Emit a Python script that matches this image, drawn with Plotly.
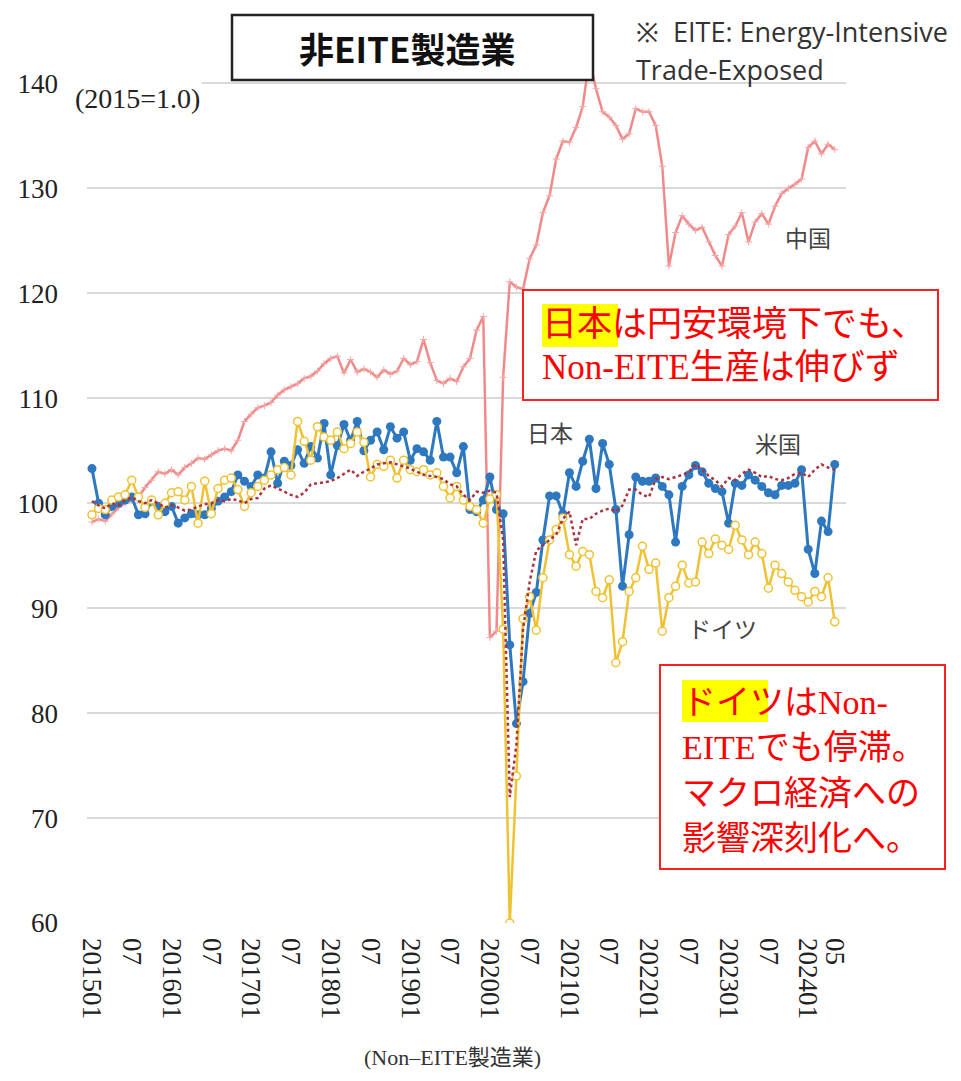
import pandas as pd
import plotly.graph_objects as go

# monthly, 2015-01 .. 2024-05 (2015=100)
months = pd.period_range("2015-01", "2024-05", freq="M")

china = [98.2, 98.5, 98.3, 99.0, 99.6, 100.0, 100.3, 100.6, 101.5, 102.2, 103.0, 102.8,
         103.2, 102.7, 103.4, 103.8, 104.3, 104.2, 104.6, 105.0, 105.2, 105.0, 106.0, 107.8,
         108.5, 109.1, 109.3, 109.6, 110.3, 110.8, 111.1, 111.4, 111.9, 112.1, 112.6, 113.3,
         113.8, 114.0, 112.4, 113.7, 112.5, 112.8, 112.5, 112.0, 112.7, 112.3, 112.6, 113.8,
         113.2, 113.5, 115.6, 113.4, 111.7, 111.4, 111.9, 111.6, 113.0, 113.8, 116.5, 117.8,
         87.2, 87.8, 112.0, 121.1, 120.6, 120.4, 123.3, 124.6, 127.7, 129.3, 132.8, 134.5,
         134.4, 135.8, 137.8, 142.3, 139.5, 137.3, 136.8, 136.0, 134.7, 135.2, 137.6, 137.3,
         137.3, 136.0, 132.1, 122.6, 125.8, 127.4, 126.6, 126.0, 126.3, 124.9, 123.6, 122.6,
         125.6, 126.4, 127.7, 124.9, 126.8, 127.6, 126.6, 128.3, 129.5, 130.0, 130.4, 130.9,
         133.9, 134.5, 133.3, 134.2, 133.7]

japan = [103.3, 100.0, 98.9, 99.7, 100.0, 100.3, 100.6, 98.9, 99.0, 100.2, 99.7, 99.2,
         99.7, 98.1, 98.6, 99.0, 98.9, 98.9, 99.5, 100.2, 100.6, 101.1, 102.7, 102.1,
         101.6, 102.7, 102.4, 104.9, 101.9, 104.0, 103.6, 105.1, 103.8, 105.4, 104.3, 107.6,
         102.7, 105.5, 107.5, 106.0, 107.8, 105.0, 106.0, 106.8, 105.1, 107.3, 106.2, 106.8,
         104.1, 105.2, 104.9, 104.1, 107.8, 104.4, 104.4, 102.9, 105.4, 99.4, 99.2, 100.3,
         102.5, 99.4, 99.0, 86.5, 79.0, 83.0, 89.5, 91.5, 96.5, 100.7, 100.7, 99.0,
         102.9, 101.6, 104.0, 106.1, 101.4, 105.7, 103.7, 99.4, 92.1, 97.0, 102.5, 102.1,
         102.1, 102.4, 101.6, 100.8, 96.3, 101.6, 102.7, 103.6, 103.0, 101.9, 101.4, 101.1,
         98.1, 101.9, 101.7, 102.7, 102.2, 101.6, 101.0, 100.8, 101.7, 101.7, 101.9, 103.2,
         95.6, 93.3, 98.3, 97.3, 103.7]

germany = [98.9, 99.5, 99.4, 100.3, 100.6, 100.8, 102.2, 100.6, 99.6, 100.3, 98.9, 100.0,
           101.0, 101.1, 100.3, 101.6, 98.1, 102.1, 99.0, 101.4, 102.2, 102.4, 101.3, 99.7,
           101.0, 101.6, 102.2, 102.7, 103.2, 103.4, 102.7, 107.8, 105.9, 104.1, 107.3, 106.3,
           106.0, 106.8, 105.2, 105.7, 106.8, 105.8, 102.5, 103.7, 103.5, 104.1, 102.4, 104.1,
           103.2, 103.0, 103.2, 102.7, 102.9, 101.6, 100.5, 101.6, 100.3, 99.7, 99.4, 98.1,
           100.4, 100.8, 88.0, 60.0, 74.0, 89.0, 91.1, 87.9, 92.9, 96.5, 97.5, 98.6,
           95.1, 94.0, 95.4, 95.1, 91.6, 91.0, 92.7, 84.8, 86.8, 91.6, 92.9, 95.9,
           93.7, 94.3, 87.8, 91.0, 92.1, 94.1, 92.4, 92.5, 96.3, 95.2, 96.6, 96.0,
           95.6, 97.9, 96.5, 95.1, 96.3, 95.2, 91.9, 94.1, 93.3, 92.5, 91.7, 91.1,
           90.6, 91.6, 91.1, 92.9, 88.7]

usa = [100.2, 99.8, 99.5, 100.0, 99.8, 100.3, 100.6, 100.2, 100.0, 100.3, 100.0, 99.6,
       99.8, 99.6, 99.3, 99.4, 99.7, 99.9, 100.0, 100.3, 100.2, 100.4, 100.3, 100.0,
       100.4, 100.5, 101.4, 101.7, 101.4, 101.1, 100.8, 100.6, 101.0, 101.8, 101.9, 102.0,
       102.1, 102.4, 102.8, 103.2, 102.6, 103.0, 103.3, 103.7, 103.8, 103.9, 103.7, 103.5,
       103.3, 103.0, 102.7, 102.6, 102.5, 102.3, 101.8, 101.6, 100.8, 100.3, 101.1, 101.0,
       101.2, 101.0, 96.5, 72.0, 77.0, 88.0, 92.5, 95.5, 96.0, 96.5, 97.0, 98.5,
       99.2, 96.0, 98.5, 98.5, 99.0, 99.3, 99.5, 99.2, 99.8, 101.3, 101.3, 100.8,
       100.6, 102.3, 102.5, 102.3, 102.5, 102.7, 103.0, 103.7, 103.2, 102.6, 102.2, 101.6,
       102.4, 102.2, 102.8, 103.2, 102.9, 102.5, 102.6, 102.3, 102.2, 102.4, 102.8, 102.9,
       102.5, 103.2, 103.7, 103.4, 103.2]

x = list(range(len(months)))
tick_idx = list(range(0, len(months), 6)) + [len(months) - 1]
tick_text = [months[i].strftime("%Y%m") if months[i].month == 1 else months[i].strftime("%m")
             for i in tick_idx]

W, H = 961, 1081
ML, MR, MT, MB = 87, 115, 31, 158


def px(xp):
    return (xp - ML) / (W - ML - MR)


def py(yp):
    return (H - MB - yp) / (H - MT - MB)


SERIF = "Liberation Serif, Noto Sans CJK JP"

fig = go.Figure()
fig.add_trace(go.Scatter(x=x, y=china, mode="lines+markers", name="中国",
                         line=dict(color="#F08A8A", width=2.5),
                         marker=dict(symbol="cross-thin", size=5,
                                     line=dict(color="#F4A8A8", width=1))))
fig.add_trace(go.Scatter(x=x, y=japan, mode="lines+markers", name="日本",
                         line=dict(color="#2E78C0", width=3),
                         marker=dict(symbol="circle", size=9, color="#2E78C0")))
fig.add_trace(go.Scatter(x=x, y=germany, mode="lines+markers", name="ドイツ",
                         line=dict(color="#EFC233", width=2.5),
                         marker=dict(symbol="circle", size=8, color="white",
                                     line=dict(color="#EFC233", width=1.5))))
fig.add_trace(go.Scatter(x=x, y=usa, mode="lines", name="米国",
                         line=dict(color="#A8323E", width=2.5, dash="dot")))

shapes = [
    # title box
    dict(type="rect", xref="paper", yref="paper", x0=px(232), x1=px(593), y0=py(80), y1=py(15),
         line=dict(color="#222222", width=2.5), fillcolor="white"),
    # Japan comment box
    dict(type="rect", xref="paper", yref="paper", x0=px(523), x1=px(938), y0=py(400), y1=py(290),
         line=dict(color="#FF2020", width=2), fillcolor="white"),
    dict(type="rect", xref="paper", yref="paper", x0=px(542), x1=px(618), y0=py(347), y1=py(304),
         line=dict(width=0), fillcolor="#FFFF00"),
    # Germany comment box
    dict(type="rect", xref="paper", yref="paper", x0=px(660), x1=px(945), y0=py(869), y1=py(665),
         line=dict(color="#FF2020", width=2), fillcolor="white"),
    dict(type="rect", xref="paper", yref="paper", x0=px(682), x1=px(768), y0=py(722), y1=py(680),
         line=dict(width=0), fillcolor="#FFFF00"),
]

ann = []


def note(text, xp, yp, size, color, family=SERIF, xanchor="center", bg=None):
    d = dict(text=text, xref="paper", yref="paper", x=px(xp), y=py(yp), showarrow=False,
             xanchor=xanchor, yanchor="middle", font=dict(family=family, size=size, color=color))
    if bg:
        d["bgcolor"] = bg
    ann.append(d)


note("<b>非EITE製造業</b>", 407, 47, 35, "#111111", family="Noto Sans CJK JP")
note("(2015=1.0)", 73, 98, 28, "#222222", xanchor="left", bg="white")
note("※  EITE: Energy-Intensive", 634, 32, 27, "#333333", family="Open Sans", xanchor="left")
note("Trade-Exposed", 634, 70, 27, "#333333", family="Open Sans", xanchor="left")

note("日本は円安環境下でも、", 540, 325, 35, "#FF0000", xanchor="left")
note("Non-EITE生産は伸びず", 540, 367, 35, "#FF0000", xanchor="left")

note("ドイツはNon-", 680, 702, 34, "#FF0000", xanchor="left")
note("EITEでも停滞。", 680, 748, 34, "#FF0000", xanchor="left")
note("マクロ経済への", 680, 793, 34, "#FF0000", xanchor="left")
note("影響深刻化へ。", 680, 838, 34, "#FF0000", xanchor="left")

note("中国", 808, 240, 23, "#444444")
note("日本", 550, 434, 23, "#444444")
note("米国", 778, 446, 23, "#444444")
note("ドイツ", 722, 630, 23, "#444444")

note("(Non–EITE製造業)", 452, 1057, 22, "#333333")

fig.update_layout(
    width=W, height=H,
    margin=dict(l=ML, r=MR, t=MT, b=MB),
    paper_bgcolor="white", plot_bgcolor="white",
    showlegend=False,
    shapes=shapes,
    annotations=ann,
    xaxis=dict(range=[-0.75, 113.7], tickvals=tick_idx, ticktext=tick_text, tickangle=90,
               showgrid=False, zeroline=False, showline=False, ticks="", automargin=False,
               ticklabelstandoff=14,
               tickfont=dict(family="Liberation Serif", size=27, color="#222222")),
    yaxis=dict(range=[60, 145], tickvals=list(range(60, 141, 10)),
               showgrid=True, gridcolor="#D9D9D9", gridwidth=1.5,
               zeroline=False, showline=False, ticks="", automargin=False,
               ticklabelstandoff=28,
               tickfont=dict(family="Liberation Serif", size=27, color="#222222")),
)

# drop the default 8px body margin so the figure sits at the page origin
fig.write_html("out.html", config={"displayModeBar": False},
               post_script="document.body.style.margin='0px';")
